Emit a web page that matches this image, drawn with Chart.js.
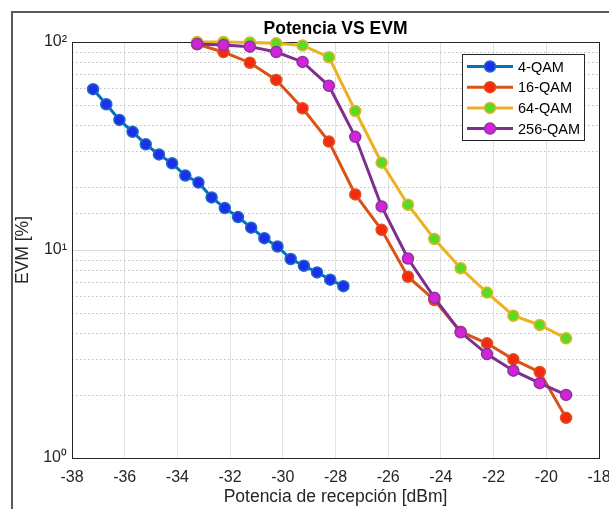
<!DOCTYPE html>
<html>
<head>
<meta charset="utf-8">
<script src="https://cdn.jsdelivr.net/npm/chart.js@4/dist/chart.umd.min.js"></script>
<style>
  body { margin: 0; background: #fff; overflow: hidden; }
  #wrap { position: relative; width: 609px; height: 509px; }
  #frame { position: absolute; left: 11px; top: 11px; width: 700px; height: 600px;
           border-left: 2px solid #5a5a5a; border-top: 2px solid #5a5a5a; pointer-events: none; }
</style>
</head>
<body>
<div id="wrap">
  <canvas id="chart" width="609" height="509"></canvas>
  <div id="frame"></div>
</div>
<script>
// received power [dBm]
var xLow  = [-37.2, -36.7, -36.2, -35.7, -35.2, -34.7, -34.2, -33.7, -33.2, -32.7,
             -32.2, -31.7, -31.2, -30.7, -30.2, -29.7, -29.2, -28.7, -28.2, -27.7];
var xHigh = [-33.25, -32.25, -31.25, -30.25, -29.25, -28.25, -27.25, -26.25,
             -25.25, -24.25, -23.25, -22.25, -21.25, -20.25, -19.25];

// EVM [%]
var evm4   = [59.3, 50.2, 42.2, 37.0, 32.2, 28.8, 26.1, 22.8, 21.1, 17.9,
              15.9, 14.4, 12.8, 11.4, 10.4, 9.05, 8.4, 7.8, 7.2, 6.7];
var evm16  = [97.5, 89.5, 79.5, 65.7, 48.0, 33.2, 18.5, 12.5, 7.44, 5.75, 4.05, 3.56, 2.98, 2.59, 1.56];
var evm64  = [100, 100, 99.5, 98.5, 96.3, 84.5, 46.6, 26.3, 16.5, 11.3, 8.17, 6.24, 4.83, 4.36, 3.76];
var evm256 = [97.8, 96.8, 95, 89.5, 80.2, 61.6, 35.0, 16.2, 9.1, 5.9, 4.02, 3.16, 2.63, 2.29, 2.01];

var seriesNames = ["4-QAM", "16-QAM", "64-QAM", "256-QAM"];
var yMajor = { 1: "10\u2070", 10: "10\u00b9", 100: "10\u00b2" };

function pts(xs, ys) {
  return xs.map(function (x, i) { return { x: x, y: ys[i] }; });
}

function series(label, xs, ys, line, fill, edge, order) {
  return {
    label: label,
    data: pts(xs, ys),
    borderColor: line,
    backgroundColor: fill,
    borderWidth: 3,
    pointRadius: 5.5,
    pointBorderWidth: 1.5,
    pointBackgroundColor: fill,
    pointBorderColor: edge,
    tension: 0,
    clip: false,
    order: order   // later series on top, like matlab
  };
}

// dotted minor grid + box around plot
var plotBox = {
  id: "plotBox",
  beforeDatasetsDraw: function (chart) {
    var c = chart.ctx, a = chart.chartArea, y = chart.scales.y;
    c.save();
    c.strokeStyle = "#bdbdbd";
    c.lineWidth = 1;
    c.setLineDash([1.5, 2.5]);
    y.ticks.forEach(function (t) {
      if (yMajor[t.value]) return;
      var py = Math.round(y.getPixelForValue(t.value)) + 0.5;
      c.beginPath();
      c.moveTo(a.left, py);
      c.lineTo(a.right, py);
      c.stroke();
    });
    c.setLineDash([]);
    c.strokeStyle = "#262626";
    c.strokeRect(Math.round(a.left) + 0.5, Math.round(a.top) + 0.5,
                 Math.round(a.right - a.left), Math.round(a.bottom - a.top));
    c.restore();
  }
};

// MATLAB style legend box inside the axes
var boxLegend = {
  id: "boxLegend",
  afterDatasetsDraw: function (chart) {
    var c = chart.ctx, a = chart.chartArea;
    var bx = a.right - 137, by = a.top + 12, bw = 122, bh = 86;
    c.save();
    c.fillStyle = "#fff";
    c.fillRect(bx, by, bw, bh);
    c.strokeStyle = "#262626";
    c.lineWidth = 1;
    c.strokeRect(bx + 0.5, by + 0.5, bw, bh);
    chart.data.datasets.forEach(function (ds, i) {
      var ry = by + 12.5 + i * 20.7;
      c.strokeStyle = ds.borderColor;
      c.lineWidth = 3;
      c.beginPath();
      c.moveTo(bx + 5, ry);
      c.lineTo(bx + 51, ry);
      c.stroke();
      c.beginPath();
      c.arc(bx + 28, ry, 5.5, 0, Math.PI * 2);
      c.fillStyle = ds.pointBackgroundColor;
      c.fill();
      c.lineWidth = 1.5;
      c.strokeStyle = ds.pointBorderColor;
      c.stroke();
      c.fillStyle = "#000";
      c.font = "14.5px 'Liberation Sans', Arial, sans-serif";
      c.textBaseline = "middle";
      c.fillText(ds.label, bx + 56, ry + 1);
    });
    c.restore();
  }
};

var font = "'Liberation Sans', Arial, sans-serif";

new Chart(document.getElementById("chart"), {
  type: "line",
  data: {
    datasets: [
      series(seriesNames[0], xLow, evm4, "#0072BD", "#1b30e8", "#1c6cc8", 4),
      series(seriesNames[1], xHigh, evm16, "#D95319", "#f42a10", "#e0501c", 3),
      series(seriesNames[2], xHigh, evm64, "#EDB120", "#5ada22", "#e2b42a", 2),
      series(seriesNames[3], xHigh, evm256, "#7E2F8E", "#d422d8", "#8a36a0", 1)
    ]
  },
  options: {
    responsive: false,
    animation: false,
    devicePixelRatio: 1,
    layout: { padding: { left: 0, right: 10, top: 19, bottom: 0 } },
    plugins: {
      legend: { display: false },
      tooltip: { enabled: false },
      title: {
        display: true,
        text: "Potencia VS EVM",
        fullSize: false,
        color: "#000",
        font: { family: font, size: 17.5, weight: "bold" },
        padding: { top: 0, bottom: 2 }
      }
    },
    scales: {
      x: {
        type: "linear",
        min: -38,
        max: -18,
        ticks: { stepSize: 2, color: "#262626", font: { family: font, size: 16 }, padding: 10, maxRotation: 0 },
        grid: { color: "#e2e2e2", drawTicks: false },
        border: { color: "#262626" },
        title: {
          display: true,
          text: "Potencia de recepción [dBm]",
          color: "#262626",
          font: { family: font, size: 17.5 },
          padding: { top: 0, bottom: 1.5 }
        },
        afterFit: function (s) { s.height = 51; s.paddingLeft = 0; s.paddingRight = 0; }
      },
      y: {
        type: "logarithmic",
        min: 1,
        max: 100,
        ticks: {
          autoSkip: false,
          color: "#262626",
          font: { family: font, size: 16 },
          padding: 5,
          callback: function (v) { return yMajor[v] || ""; }
        },
        grid: {
          drawTicks: false,
          color: function (ctx) { return ctx.tick && yMajor[ctx.tick.value] ? "#d8d8d8" : "rgba(0,0,0,0)"; }
        },
        border: { color: "#262626" },
        title: {
          display: true,
          text: "EVM [%]",
          color: "#262626",
          font: { family: font, size: 17.5 },
          padding: { top: 12.5, bottom: 0 }
        },
        afterFit: function (s) { s.width = 72; s.paddingTop = 0; s.paddingBottom = 0; }
      }
    }
  },
  plugins: [plotBox, boxLegend]
});
</script>
</body>
</html>
